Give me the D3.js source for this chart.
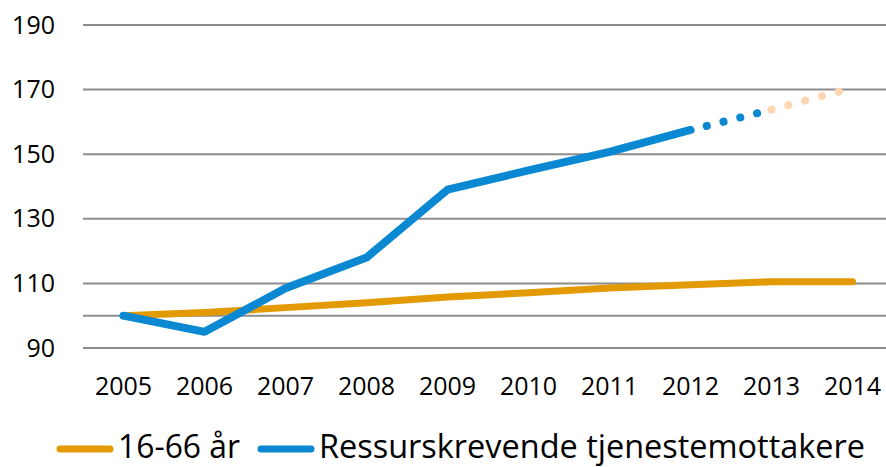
<!DOCTYPE html>
<html lang="no">
<head>
<meta charset="UTF-8">
<script src="https://cdn.jsdelivr.net/npm/d3@7"></script>
<style>
  body { margin: 0; background: #fff; }
  * { font-family: "Open Sans", sans-serif; }
</style>
</head>
<body>
<div id="chart"></div>
<script>
// Data
var years = [2005, 2006, 2007, 2008, 2009, 2010, 2011, 2012, 2013, 2014];
var alder = [100, 101, 102.5, 104, 105.8, 107.1, 108.6, 109.6, 110.5, 110.5];
var ressurs = [100, 95, 108.5, 118, 139, 145, 150.7, 157.5];
var ressursProg1 = [157.5, 163.8];   // 2012-2013 dotted
var ressursProg2 = [163.8, 170.5];   // 2013-2014 dotted, light
var yTicks = [90, 110, 130, 150, 170, 190];
var extraGrid = [100];

var W = 886, H = 467;
var margin = {top: 25, right: -7, bottom: 119, left: 83};
var width = W - margin.left - margin.right;
var height = H - margin.top - margin.bottom;

var svg = d3.select("#chart").append("svg")
    .attr("width", W).attr("height", H);
var g = svg.append("g")
    .attr("transform", "translate(" + margin.left + "," + margin.top + ")");

var x = d3.scaleBand().domain(years).range([0, width]);
var y = d3.scaleLinear().domain([90, 190]).range([height, 0]);
var cx = function(yr) { return x(yr) + x.bandwidth() / 2; };

// gridlines
g.selectAll(".grid")
  .data(yTicks.concat(extraGrid))
  .enter().append("line")
    .attr("x1", 0).attr("x2", width)
    .attr("y1", function(d) { return y(d); })
    .attr("y2", function(d) { return y(d); })
    .attr("stroke", "#8c8c8c").attr("stroke-width", 2);

// y axis labels
var yAxis = g.append("g").call(d3.axisLeft(y).tickValues(yTicks).tickSize(0).tickPadding(28));
yAxis.select(".domain").remove();
yAxis.selectAll("text").attr("font-size", 25).attr("fill", "#000")
  .style("font-family", "'Open Sans', sans-serif");

// x axis labels
var xAxis = g.append("g").attr("transform", "translate(0," + height + ")")
  .call(d3.axisBottom(x).tickSize(0).tickPadding(29));
xAxis.select(".domain").remove();
xAxis.selectAll("text").attr("font-size", 25).attr("fill", "#000")
  .style("font-family", "'Open Sans', sans-serif");

var line = d3.line()
  .x(function(d) { return cx(d[0]); })
  .y(function(d) { return y(d[1]); });

var orange = "#e39a00", blue = "#0a88d2", peach = "#fdd7b3";

g.append("path")
  .datum(years.map(function(yr, i) { return [yr, alder[i]]; }))
  .attr("d", line).attr("fill", "none")
  .attr("stroke", orange).attr("stroke-width", 7)
  .attr("stroke-linecap", "round").attr("stroke-linejoin", "round");

g.append("path")
  .datum(ressursProg2.map(function(v, i) { return [years[8 + i], v]; }))
  .attr("d", line).attr("fill", "none")
  .attr("stroke", peach).attr("stroke-width", 8)
  .attr("stroke-linecap", "round").attr("stroke-dasharray", "0.1,17.3");

g.append("path")
  .datum(ressursProg1.map(function(v, i) { return [years[7 + i], v]; }))
  .attr("d", line).attr("fill", "none")
  .attr("stroke", blue).attr("stroke-width", 8)
  .attr("stroke-linecap", "round").attr("stroke-dasharray", "0.1,17.2")
  .attr("stroke-dashoffset", 0.6);

g.append("path")
  .datum(ressurs.map(function(v, i) { return [years[i], v]; }))
  .attr("d", line).attr("fill", "none")
  .attr("stroke", blue).attr("stroke-width", 8)
  .attr("stroke-linecap", "round").attr("stroke-linejoin", "round");

// legend
var legend = svg.append("g");
var items = [
  {label: "16-66 år", color: orange, x: 57, tw: 122},
  {label: "Ressurskrevende tjenestemottakere", color: blue, x: 258, tw: 546}
];
items.forEach(function(it) {
  legend.append("line")
    .attr("x1", it.x + 3).attr("x2", it.x + 53)
    .attr("y1", 449).attr("y2", 449)
    .attr("stroke", it.color).attr("stroke-width", 7).attr("stroke-linecap", "round");
  legend.append("text")
    .attr("x", it.x + 61).attr("y", 458)
    .attr("font-size", 33)
    .attr("textLength", it.tw).attr("lengthAdjust", "spacingAndGlyphs")
    .text(it.label);
});
</script>
</body>
</html>
